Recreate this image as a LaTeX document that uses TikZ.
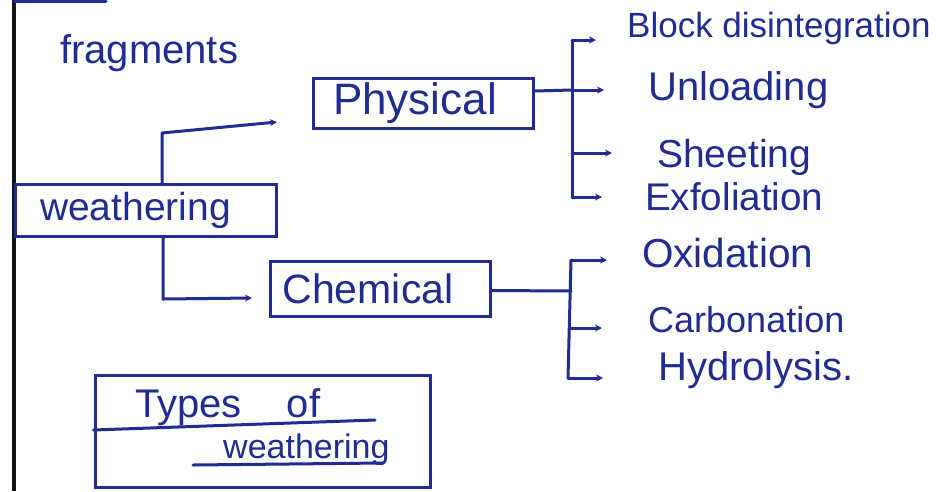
\documentclass[tikz,border=0pt]{standalone}
\usepackage{fontspec}
\setmainfont{Liberation Sans}
\usetikzlibrary{arrows.meta}
\definecolor{ink}{RGB}{32,44,145}
\definecolor{edgeblack}{RGB}{20,20,25}
\begin{document}
\begin{tikzpicture}[x=1pt,y=-1pt,
  inkline/.style={draw=ink, line width=3pt, line cap=round, line join=round},
  arr/.style={inkline, -{Stealth[length=7pt,width=7pt]}},
  hw/.style={text=ink, inner sep=0pt, font=\fontsize{40}{44}\selectfont},
  boxnode/.style={draw=ink, line width=3pt, inner sep=0pt, text=ink},
]
\useasboundingbox (0,0) rectangle (947,491);
\fill[white] (0,0) rectangle (947,491);

% page margin line
\draw[edgeblack, line width=3.2pt] (14,0) -- (14,491);
\draw[inkline] (14,1.5) -- (106,1.5);

% texts and boxes
\node[hw, anchor=base west] (frag) at (60,63) {fragments};
\node[boxnode, font=\fontsize{39}{44}\selectfont, minimum width=261pt, minimum height=52pt] (weath) at (145.5,210) {weathering\hspace*{20pt}};
\node[boxnode, font=\fontsize{44}{48}\selectfont, minimum width=220pt, minimum height=50pt] (phys) at (423,103) {Physical\hspace*{16pt}};
\node[boxnode, font=\fontsize{41}{46}\selectfont, minimum width=220pt, minimum height=55pt] (chem) at (380,288.5) {Chemical\hspace*{24pt}};
\node[boxnode, minimum width=335pt, minimum height=112pt] (types) at (262.5,431) {};

\node[hw, anchor=base west] (typesA) at (135,417) {Types\hspace{45pt}of};
\node[hw, anchor=base west, font=\fontsize{34}{38}\selectfont] (typesB) at (223,458) {weathering};
\draw[inkline] (types.west |- 0,430) -- (375,420);
\draw[inkline] (193,465) -- (383,463);

\node[hw, anchor=base west, font=\fontsize{35}{40}\selectfont] (block) at (627,37) {Block disintegration};
\node[hw, anchor=base west] (unload) at (648,100) {Unloading};
\node[hw, anchor=base west, font=\fontsize{39}{44}\selectfont] (sheet) at (657,167) {Sheeting};
\node[hw, anchor=base west, font=\fontsize{38.6}{44}\selectfont] (exfol) at (645,210) {Exfoliation};
\node[hw, anchor=base west, font=\fontsize{40.5}{44}\selectfont] (oxid) at (642,267) {Oxidation};
\node[hw, anchor=base west, font=\fontsize{36}{40}\selectfont] (carb) at (648,332) {Carbonation};
\node[hw, anchor=base west, font=\fontsize{40}{44}\selectfont] (hydro) at (658,380) {Hydrolysis.};

% weathering -> physical / chemical
\coordinate (c1) at (162,133);
\coordinate (c1e) at (277,122);
\draw[arr] (weath.north -| c1) -- (c1) -- (c1e);
\coordinate (c2) at (163,299);
\coordinate (c2e) at (252,298);
\draw[arr] (weath.south -| c2) -- (c2) -- (c2e);

% physical bracket
\coordinate (pv) at (572,90);
\coordinate (ptop) at (572,40);
\coordinate (pmid) at (572,153);
\coordinate (pbot) at (572,197);
\draw[inkline] ([yshift=12pt]phys.east) -- (pv);
\draw[inkline] (ptop) -- (pbot);
\draw[arr] (ptop) -- ++(24,0);
\draw[arr] (pv) -- ++(32,0);
\draw[arr] (pmid) -- ++(40,0);
\draw[arr] (pbot) -- ++(30,0);

% chemical bracket
\coordinate (cv) at (571,291);
\coordinate (ctop) at (571,260);
\coordinate (cmid) at (569,328);
\coordinate (cbot) at (568,378);
\draw[inkline] ([yshift=-2pt]chem.east) -- (cv);
\draw[inkline] (ctop) -- (cbot);
\draw[arr] (ctop) -- ++(36,0);
\draw[arr] (cmid) -- ++(33,0);
\draw[arr] (cbot) -- ++(35,0);
\end{tikzpicture}
\end{document}
